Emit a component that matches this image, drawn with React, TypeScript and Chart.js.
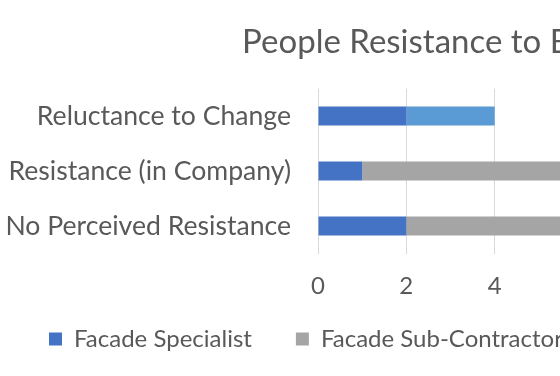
import React, { useEffect, useRef } from "react";
import { Chart, registerables } from "chart.js";

Chart.register(...registerables);

const TITLE = "People Resistance to BIM";
const categories = ["Reluctance to Change", "Resistance (in Company)", "No Perceived Resistance"];
const seriesNames = ["Facade Specialist", "Facade Sub-Contractor", "Architect"];
const facadeSpecialist = [2, 1, 2];
const facadeSubContractor = [0, 10, 9];
const architect = [2, 0, 0];
const xMin = 0;
const xMax = 12;
const xStep = 2;

const FONT = "Lato";
const TEXT = "#595959";

export default function App() {
  const ref = useRef<HTMLCanvasElement>(null);
  useEffect(() => {
    const chart = new Chart(ref.current!, {
      type: "bar",
      data: {
        labels: categories,
        datasets: [
          { label: seriesNames[0], data: facadeSpecialist, backgroundColor: "#4472C4" },
          { label: seriesNames[1], data: facadeSubContractor, backgroundColor: "#A5A5A5" },
          { label: seriesNames[2], data: architect, backgroundColor: "#5B9BD5" },
        ],
      },
      options: {
        indexAxis: "y",
        responsive: false,
        animation: false,
        devicePixelRatio: 1,
        datasets: { bar: { categoryPercentage: 0.5, barPercentage: 0.69 } },
        layout: { padding: { left: 5, right: 17, top: 0, bottom: 15 } },
        plugins: {
          title: {
            display: true,
            text: TITLE,
            color: TEXT,
            font: { family: FONT, size: 33, weight: "normal" },
            padding: { top: 23, bottom: 26 },
          },
          legend: {
            position: "bottom",
            align: "start",
            labels: {
              boxWidth: 13,
              boxHeight: 13,
              padding: 44,
              color: TEXT,
              font: { family: FONT, size: 24 },
            },
          },
          tooltip: { enabled: false },
        },
        scales: {
          x: {
            stacked: true,
            min: xMin,
            max: xMax,
            ticks: { stepSize: xStep, mirror: true, padding: -47, color: TEXT, font: { family: FONT, size: 24 } },
            grid: { color: "#D9D9D9", drawTicks: false },
            border: { display: false },
            afterFit: (s: any) => { s.height = 29.5; },
          },
          y: {
            stacked: true,
            ticks: { autoSkip: false, padding: 27, color: TEXT, font: { family: FONT, size: 26.6 } },
            grid: { display: false, drawTicks: false },
            border: { display: false },
            afterFit: (s: any) => { s.width = 313; },
          },
        },
      },
    });
    return () => chart.destroy();
  }, []);
  return (
    <div style={{ position: "absolute", left: 0, top: 0, width: 560, height: 376, overflow: "hidden", background: "#fff" }}>
      <canvas ref={ref} width={865} height={376} style={{ display: "block" }} />
    </div>
  );
}
